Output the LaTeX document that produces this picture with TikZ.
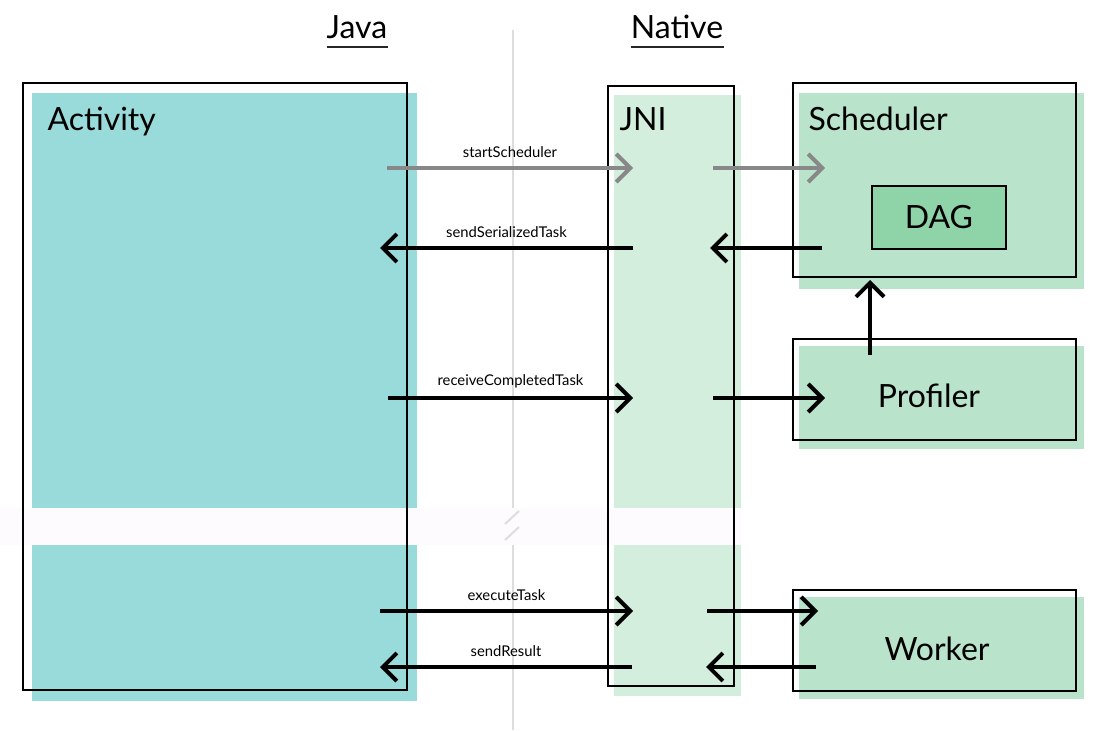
\documentclass[tikz,border=0pt]{standalone}
\usepackage{fontspec}
\setmainfont{Lato}
\usetikzlibrary{arrows.meta}
\definecolor{teal}{HTML}{99DBDB}
\definecolor{jnibg}{HTML}{D3EEDD}
\definecolor{modbg}{HTML}{B9E4CB}
\definecolor{dagbg}{HTML}{8FD4A8}
\definecolor{band}{HTML}{FDFBFD}
\definecolor{divider}{HTML}{DDDDDD}
\definecolor{startgray}{HTML}{888888}
\tikzset{
  frame/.style={draw=black, line width=2pt},
  big/.style={font=\fontsize{32}{38}\selectfont},
  lbl/.style={font=\fontsize{14.8}{17}\selectfont},
  msg/.style={line width=4pt, -{Straight Barb[length=14pt,width=28pt,line width=4pt]}},
}
\begin{document}
\begin{tikzpicture}[x=1pt,y=-1pt]
\useasboundingbox (0,0) rectangle (1107,730);
% divider
\draw[divider, line width=2pt] (513,30) -- (513,508);
\draw[divider, line width=2pt] (513,545) -- (513,730);
% fills
\fill[teal] (32,93) rectangle (417,701);
\fill[jnibg] (614,95) rectangle (741,696);
\fill[modbg] (799,93) rectangle (1084,289);
\fill[modbg] (799,346) rectangle (1084,449);
\fill[modbg] (799,597) rectangle (1084,699);
% break band
\fill[band] (0,508) rectangle (741,545);
\draw[divider, line width=2pt] (505,524) -- (519,511);
\draw[divider, line width=2pt] (505,540) -- (519,527);
% titles
\node[big, anchor=base] (java) at (357,39) {Java};
\draw[black!85, line width=2pt] (327,47) -- (388,47);
\node[big, anchor=base] (native) at (677,39) {Native};
\draw[black!85, line width=2pt] (631,47) -- (724,47);
% frames
\node[frame, minimum width=384pt, minimum height=607pt, anchor=north west, inner sep=0pt] (act) at (22,82) {};
\node[big, anchor=base west] at (44,131) {Activity};
\node[frame, minimum width=126pt, minimum height=600pt, anchor=north west, inner sep=0pt] (jni) at (607,85) {};
\node[big, anchor=base west] at (616,131) {JNI};
\node[frame, minimum width=283pt, minimum height=194pt, anchor=north west, inner sep=0pt] (sched) at (792,82) {};
\node[big, anchor=base west] at (805,131) {Scheduler};
\node[frame, fill=dagbg, minimum width=134pt, minimum height=63pt, anchor=north west, inner sep=0pt, big] (dag) at (871,185) {DAG};
\node[frame, minimum width=283pt, minimum height=101pt, anchor=north west, inner sep=0pt] (prof) at (792,338) {};
\node[big] at (929,396) {Profiler};
\node[frame, minimum width=283pt, minimum height=101pt, anchor=north west, inner sep=0pt] (work) at (792,589) {};
\node[big] at (937,649) {Worker};
% connector endpoints
\coordinate (a1) at (387,168); \coordinate (j1) at (633,168);
\coordinate (j1b) at (713,168); \coordinate (s1) at (825,168);
\coordinate (a2) at (380,248); \coordinate (j2) at (633,248);
\coordinate (j2b) at (710,248); \coordinate (s2) at (822,248);
\coordinate (a3) at (388,398); \coordinate (j3) at (633,398);
\coordinate (j3b) at (713,398); \coordinate (p3) at (825,398);
\coordinate (pt) at (870,355); \coordinate (sb) at (870,280);
\coordinate (a4) at (380,611); \coordinate (j4) at (633,611);
\coordinate (j4b) at (707,611); \coordinate (w4) at (818,611);
\coordinate (a5) at (380,667); \coordinate (j5) at (632,667);
\coordinate (j5b) at (706,667); \coordinate (w5) at (816,667);
% messages
\draw[msg, startgray] (a1) -- node[lbl, black, above=5pt] {startScheduler} (j1);
\draw[msg, startgray] (j1b) -- (s1);
\draw[msg] (j2) -- node[lbl, above=5pt] {sendSerializedTask} (a2);
\draw[msg] (s2) -- (j2b);
\draw[msg] (a3) -- node[lbl, above=5pt] {receiveCompletedTask} (j3);
\draw[msg] (j3b) -- (p3);
\draw[msg] (pt) -- (sb);
\draw[msg] (a4) -- node[lbl, above=5pt] {executeTask} (j4);
\draw[msg] (j4b) -- (w4);
\draw[msg] (j5) -- node[lbl, above=5pt] {sendResult} (a5);
\draw[msg] (w5) -- (j5b);
\end{tikzpicture}
\end{document}
